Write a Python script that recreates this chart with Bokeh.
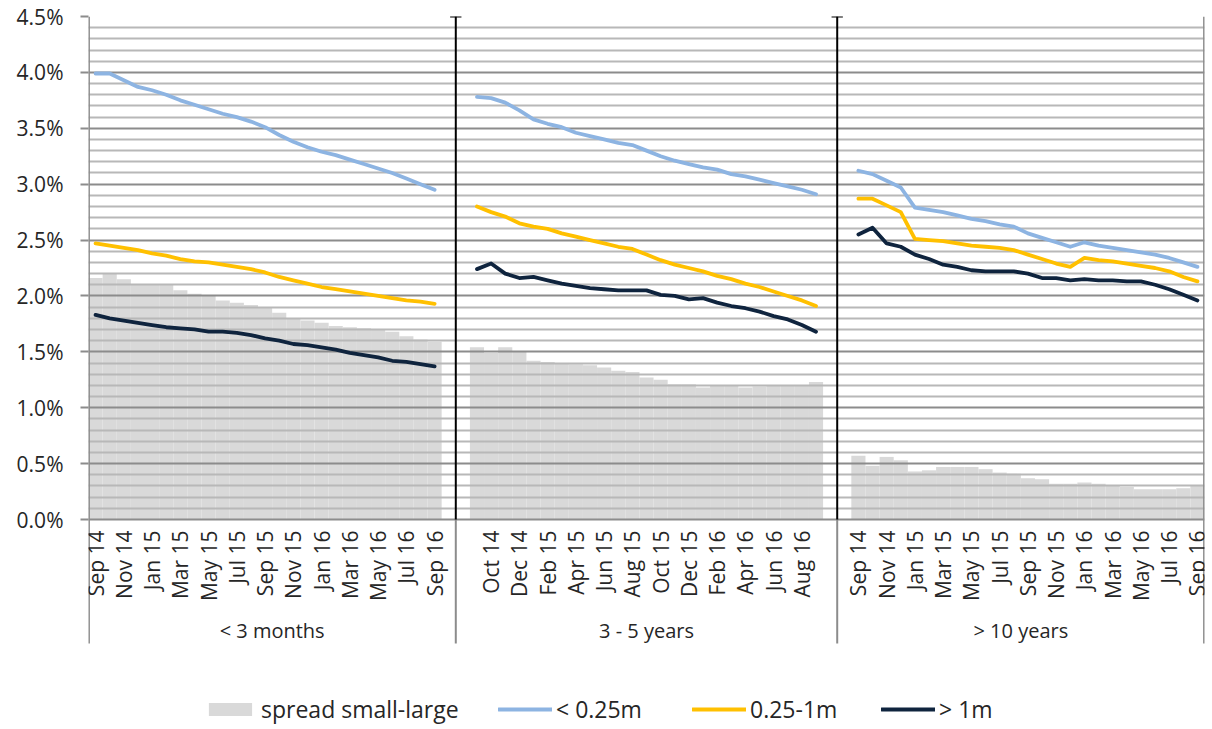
from bokeh.plotting import figure
from bokeh.models import Range1d, FixedTicker, PrintfTickFormatter, Legend, LegendItem
from bokeh.core.properties import value
from bokeh.embed import file_html
from bokeh.resources import INLINE

# ---------------- data ----------------
months = ["Sep 14", "Oct 14", "Nov 14", "Dec 14", "Jan 15", "Feb 15", "Mar 15", "Apr 15",
          "May 15", "Jun 15", "Jul 15", "Aug 15", "Sep 15", "Oct 15", "Nov 15", "Dec 15",
          "Jan 16", "Feb 16", "Mar 16", "Apr 16", "May 16", "Jun 16", "Jul 16", "Aug 16", "Sep 16"]
groups = ["< 3 months", "3 - 5 years", "> 10 years"]

# < 3 months
small_3m = [3.99, 3.99, 3.93, 3.87, 3.84, 3.80, 3.75, 3.71, 3.67, 3.63, 3.60, 3.56, 3.51,
            3.44, 3.38, 3.33, 3.29, 3.26, 3.22, 3.18, 3.14, 3.10, 3.05, 3.00, 2.95]
mid_3m = [2.47, 2.45, 2.43, 2.41, 2.38, 2.36, 2.33, 2.31, 2.30, 2.28, 2.26, 2.24, 2.21,
          2.17, 2.14, 2.11, 2.08, 2.06, 2.04, 2.02, 2.00, 1.98, 1.96, 1.95, 1.93]
large_3m = [1.83, 1.80, 1.78, 1.76, 1.74, 1.72, 1.71, 1.70, 1.68, 1.68, 1.67, 1.65, 1.62,
            1.60, 1.57, 1.56, 1.54, 1.52, 1.49, 1.47, 1.45, 1.42, 1.41, 1.39, 1.37]
spread_3m = [2.16, 2.20, 2.15, 2.10, 2.10, 2.10, 2.05, 2.02, 2.00, 1.96, 1.94, 1.92, 1.90,
             1.85, 1.80, 1.78, 1.76, 1.73, 1.72, 1.71, 1.70, 1.68, 1.64, 1.61, 1.59]

# 3 - 5 years
small_35 = [3.78, 3.77, 3.73, 3.66, 3.58, 3.54, 3.51, 3.46, 3.43, 3.40, 3.37, 3.35, 3.30,
            3.25, 3.21, 3.18, 3.15, 3.13, 3.09, 3.07, 3.04, 3.01, 2.98, 2.95, 2.91]
mid_35 = [2.80, 2.75, 2.71, 2.65, 2.62, 2.60, 2.56, 2.53, 2.50, 2.47, 2.44, 2.42, 2.37,
          2.32, 2.28, 2.25, 2.22, 2.18, 2.15, 2.11, 2.08, 2.04, 2.00, 1.96, 1.91]
large_35 = [2.24, 2.29, 2.20, 2.16, 2.17, 2.14, 2.11, 2.09, 2.07, 2.06, 2.05, 2.05, 2.05,
            2.01, 2.00, 1.97, 1.98, 1.94, 1.91, 1.89, 1.86, 1.82, 1.79, 1.74, 1.68]
spread_35 = [1.54, 1.49, 1.54, 1.50, 1.42, 1.41, 1.40, 1.39, 1.38, 1.36, 1.33, 1.32, 1.27,
             1.25, 1.21, 1.21, 1.18, 1.20, 1.20, 1.18, 1.19, 1.20, 1.20, 1.20, 1.23]

# > 10 years
small_10 = [3.12, 3.09, 3.03, 2.97, 2.79, 2.77, 2.75, 2.72, 2.69, 2.67, 2.64, 2.62, 2.56,
            2.52, 2.48, 2.44, 2.48, 2.45, 2.43, 2.41, 2.39, 2.37, 2.34, 2.30, 2.26]
mid_10 = [2.87, 2.87, 2.81, 2.75, 2.51, 2.50, 2.49, 2.47, 2.45, 2.44, 2.43, 2.41, 2.37,
          2.33, 2.29, 2.26, 2.34, 2.32, 2.31, 2.29, 2.27, 2.25, 2.22, 2.17, 2.13]
large_10 = [2.55, 2.61, 2.47, 2.44, 2.37, 2.33, 2.28, 2.26, 2.23, 2.22, 2.22, 2.22, 2.20,
            2.16, 2.16, 2.14, 2.15, 2.14, 2.14, 2.13, 2.13, 2.10, 2.06, 2.01, 1.96]
spread_10 = [0.57, 0.48, 0.56, 0.53, 0.43, 0.44, 0.47, 0.47, 0.47, 0.45, 0.42, 0.41, 0.37,
             0.36, 0.32, 0.32, 0.33, 0.32, 0.30, 0.29, 0.27, 0.27, 0.27, 0.28, 0.30]

y_ticks = [0.0, 0.5, 1.0, 1.5, 2.0, 2.5, 3.0, 3.5, 4.0, 4.5]
y_minor = [round(i * 0.1, 1) for i in range(46) if i % 5 != 0]

small_all = [small_3m, small_35, small_10]
mid_all = [mid_3m, mid_35, mid_10]
large_all = [large_3m, large_35, large_10]
spread_all = [spread_3m, spread_35, spread_10]

# ---------------- category layout ----------------
# empty slot after group 1, before and after group 2, before group 3 (as in the source)
blank_before = [0, 1, 1]
blank_after = [1, 1, 0]
bounds = [0]
offsets = []
for g in range(3):
    offsets.append(bounds[-1] + blank_before[g])
    bounds.append(bounds[-1] + blank_before[g] + len(months) + blank_after[g])
NCAT = bounds[-1]

xs = [[offsets[g] + j + 0.5 for j in range(len(months))] for g in range(3)]

FONT = "Open Sans"
TXT = "#262626"
YMAX = 4.5
W, H, TOPB = 1212, 729, 16
px_per_unit = 503 / YMAX
YMIN = YMAX - (H - TOPB) / px_per_unit
Y_SEP_BOTTOM = -124 / px_per_unit

p = figure(width=W, height=H, x_range=Range1d(0, NCAT), y_range=Range1d(YMIN, YMAX),
           output_backend="svg", toolbar_location=None, tools="", x_axis_location=None,
           min_border_left=88, min_border_right=8, min_border_top=TOPB, min_border_bottom=0,
           outline_line_color=None, background_fill_color="white", border_fill_color="white")

# grid
p.xgrid.grid_line_color = None
p.ygrid.ticker = FixedTicker(ticks=y_ticks, minor_ticks=y_minor)
p.ygrid.grid_line_color = "#8c8c8c"
p.ygrid.grid_line_width = 2
p.ygrid.minor_grid_line_color = "#b8b8b8"
p.ygrid.minor_grid_line_width = 2

# y axis
ax = p.yaxis[0]
ax.ticker = FixedTicker(ticks=y_ticks)
ax.formatter = PrintfTickFormatter(format="%.1f%%")
ax.axis_line_color = None
ax.minor_tick_line_color = None
ax.major_tick_line_color = "#8c8c8c"
ax.major_tick_line_width = 2
ax.major_tick_out = 8
ax.major_tick_in = 0
ax.major_label_standoff = 17
ax.major_label_text_font = FONT
ax.major_label_text_font_size = "21px"
ax.major_label_text_color = TXT

# bars (drawn beneath grid)
bx = [x for g in range(3) for x in xs[g]]
by = [v for g in range(3) for v in spread_all[g]]
r_bar = p.vbar(x=bx, top=by, bottom=0, width=1.0, fill_color="#d9d9d9", line_color=None,
               level="image")

# lines
def mline(series, color):
    return p.multi_line(xs=xs, ys=series, line_color=color, line_width=3.8,
                        line_cap="round", line_join="round")

r_small = mline(small_all, "#8db4e2")
r_mid = mline(mid_all, "#ffc000")
r_large = mline(large_all, "#0f243e")

# frame borders / group separators
edge_x = [bounds[0] + 0.03, bounds[-1] - 0.03]
p.segment(x0=edge_x, y0=[Y_SEP_BOTTOM] * 2, x1=edge_x, y1=[YMAX] * 2,
          line_color="#8c8c8c", line_width=2)
inner = bounds[1:-1]
p.segment(x0=inner, y0=[Y_SEP_BOTTOM] * len(inner), x1=inner, y1=[0] * len(inner),
          line_color="#8c8c8c", line_width=2)
p.segment(x0=inner, y0=[0] * len(inner), x1=inner, y1=[YMAX] * len(inner),
          line_color="black", line_width=2)
p.segment(x0=[b - 0.4 for b in inner], y0=[YMAX] * len(inner),
          x1=[b + 0.4 for b in inner], y1=[YMAX] * len(inner),
          line_color="black", line_width=2)

# month tick labels (every second category, rotated)
lab_x, lab_t = [], []
for g in range(3):
    for j, m in enumerate(months):
        if (offsets[g] + j) % 2 == 0:
            lab_x.append(xs[g][j])
            lab_t.append(m)
p.text(x=lab_x, y=[-11 / px_per_unit] * len(lab_x), text=lab_t, angle=1.5707963,
       text_align="right", text_baseline="middle", text_font=value(FONT),
       text_font_size="21px", text_color=TXT)

# group labels
gx = [(bounds[g] + bounds[g + 1]) / 2 for g in range(3)]
p.text(x=gx, y=[-111 / px_per_unit] * 3, text=groups, text_align="center",
       text_baseline="middle", text_font=value(FONT), text_font_size="20px", text_color=TXT)

# legend (one block per entry to match positions)
entries = [("spread small-large", r_bar, 115), ("< 0.25m", r_small, 410),
           ("0.25-1m", r_mid, 604), ("> 1m", r_large, 793)]
for lab, rend, lx in entries:
    leg = Legend(items=[LegendItem(label=lab, renderers=[rend])], location=(lx, 4),
                 orientation="horizontal", padding=0, margin=0, border_line_color=None,
                 background_fill_alpha=0, glyph_width=54, glyph_height=16,
                 label_standoff=4, label_text_font=FONT, label_text_font_size="23px",
                 label_text_color=TXT, label_text_baseline="middle")
    p.add_layout(leg)

open("out.html", "w").write(file_html(p, INLINE))
